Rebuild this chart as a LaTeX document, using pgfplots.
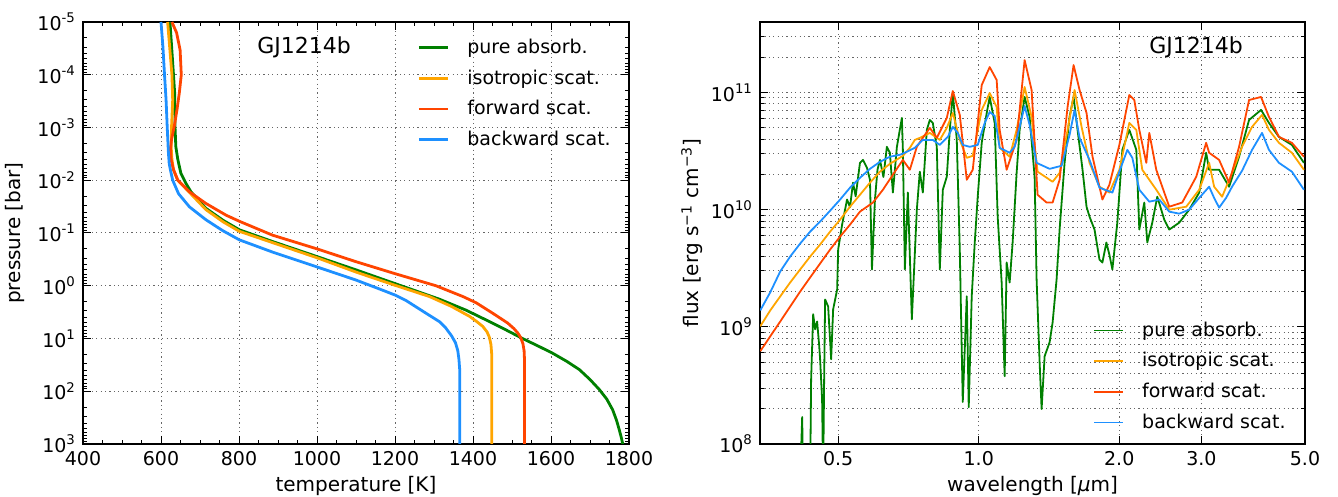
\documentclass[border=0pt]{standalone}
\usepackage{fontspec}
\setmainfont{DejaVu Sans}
\usepackage{pgfplots}
\pgfplotsset{compat=1.18}
\definecolor{cgreen}{RGB}{0,128,0}
\definecolor{corange}{RGB}{255,165,0}
\definecolor{cred}{RGB}{255,69,0}
\definecolor{cblue}{RGB}{30,144,255}
\pgfplotsset{
  myaxis/.style={
    scale only axis,
    height=211pt,
    anchor=south west,
    tick label style={font=\fontsize{9.5}{11}\selectfont},
    label style={font=\fontsize{10}{12}\selectfont},
    /pgf/number format/assume math mode=true,
    /pgf/number format/1000 sep={},
    major tick length=4pt, minor tick length=2pt,
    every tick/.style={black, line width=0.5pt},
    grid style={black!60, dash pattern=on 0.6pt off 1.6pt, line width=0.5pt},
    axis line style={line width=0.6pt},
    legend style={draw=none, fill=none, font=\fontsize{9.5}{11}\selectfont, row sep=2.6pt, inner sep=0pt,
      /tikz/every odd column/.append style={column sep=7pt}},
    legend cell align=left,
    legend image code/.code={\draw[##1] (0pt,0pt) -- (14.5pt,0pt);},
    xlabel style={at={(axis description cs:0.5,-0.1)}, anchor=center},
    ylabel style={at={(axis description cs:-0.1245,0.5)}, anchor=center},
  }
}
\begin{document}
\begin{tikzpicture}
\useasboundingbox (0,0) rectangle (669pt,248.5pt);
% ---------------- left panel ----------------
\begin{axis}[myaxis, at={(41.5pt,26.5pt)}, width=273pt,
  xmin=400, xmax=1800, xtick={400,600,...,1800}, minor x tick num=3,
  ymode=log, y dir=reverse, ymin=1e-5, ymax=1e3,
  ytick={1e-5,1e-4,1e-3,1e-2,1e-1,1e0,1e1,1e2,1e3},
  yticklabels={10\textsuperscript{-5},10\textsuperscript{-4},10\textsuperscript{-3},10\textsuperscript{-2},10\textsuperscript{-1},10\textsuperscript{0},10\textsuperscript{1},10\textsuperscript{2},10\textsuperscript{3}},
  minor ytick={2e-5,3e-5,4e-5,5e-5,6e-5,7e-5,8e-5,9e-5,2e-4,3e-4,4e-4,5e-4,6e-4,7e-4,8e-4,9e-4,2e-3,3e-3,4e-3,5e-3,6e-3,7e-3,8e-3,9e-3,2e-2,3e-2,4e-2,5e-2,6e-2,7e-2,8e-2,9e-2,0.2,0.3,0.4,0.5,0.6,0.7,0.8,0.9,2,3,4,5,6,7,8,9,20,30,40,50,60,70,80,90,200,300,400,500,600,700,800,900},
  xmajorgrids, ymajorgrids,
  xlabel={temperature [K]}, ylabel={pressure [bar]},
  legend style={at={(0.612,0.830)}, anchor=west},
  every axis plot/.append style={line width=1.4pt, line join=round},
]
\addplot[cgreen] table {
623 1e-5
632 1e-4
635 2.2e-4
636 1e-3
638 2.3e-3
643 4e-3
651 7.4e-3
664 1.15e-2
677 1.66e-2
715 3.4e-2
760 5.8e-2
801 8.7e-2
886 0.145
1000 0.28
1100 0.5
1200 0.91
1314 1.8
1382 2.9
1450 5.1
1485 6.9
1527 10
1568 14
1604 19
1640 27
1673 39
1700 60
1724 93
1743 141
1758 224
1768 355
1775 537
1780 741
1784 1000
};
\addlegendentry{pure absorb.}
\addplot[corange] table {
617 1e-5
628 1e-4
630 3e-4
627 1e-3
626 2.3e-3
628 4e-3
632 6.3e-3
643 1e-2
673 1.7e-2
715 3.6e-2
760 6.2e-2
801 9.3e-2
1000 0.295
1100 0.55
1200 0.98
1288 1.6
1344 2.45
1391 3.8
1410 4.8
1425 5.9
1436 7.5
1442 9.5
1446 13
1448 20
1448 40
1448 1000
};
\addlegendentry{isotropic scat.}
\addplot[cred] table {
628 1e-5
640 1.6e-5
649 3.4e-5
652 1e-4
647 2.2e-4
641 4.6e-4
634 9.5e-4
627 1.7e-3
624 2.6e-3
626 4.1e-3
632 6.3e-3
643 1e-2
673 1.66e-2
715 2.75e-2
767 4.6e-2
801 6e-2
886 0.11
1000 0.2
1100 0.35
1200 0.59
1305 1.0
1374 1.6
1408 2.1
1450 3.3
1489 5.1
1505 6.5
1515 7.9
1522 9.5
1528 12.5
1531 17
1532 25
1532 1000
};
\addlegendentry{forward scat.}
\addplot[cblue] table {
600 1e-5
605 3e-5
609 1e-4
613 3e-4
616 1e-3
619 3e-3
621 4.8e-3
624 6.3e-3
630 1e-2
645 1.8e-2
673 3.2e-2
715 5.6e-2
758 0.09
801 0.135
886 0.23
1000 0.44
1100 0.78
1160 1.15
1200 1.5
1228 1.9
1279 3.3
1314 4.8
1330 6.3
1345 8.9
1355 12
1361 17
1364 25
1366 40
1366 1000
};
\addlegendentry{backward scat.}
\node[font=\fontsize{11}{13}\selectfont] at (axis description cs:0.405,0.941) {GJ1214b};
\end{axis}
% ---------------- right panel ----------------
\begin{axis}[myaxis, at={(380pt,26.5pt)}, width=272.5pt,
  xmode=log, xmin=0.34, xmax=5, xtick={0.5,1,2,3,5}, xticklabels={0.5,1.0,2.0,3.0,5.0}, minor xtick={},
  ymode=log, ymin=1e8, ymax=4e11,
  ytick={1e8,1e9,1e10,1e11},
  yticklabels={10\textsuperscript{8},10\textsuperscript{9},10\textsuperscript{10},10\textsuperscript{11}},
  minor ytick={2e8,3e8,4e8,5e8,6e8,7e8,8e8,9e8,2e9,3e9,4e9,5e9,6e9,7e9,8e9,9e9,2e10,3e10,4e10,5e10,6e10,7e10,8e10,9e10,2e11,3e11},
  xmajorgrids, ymajorgrids, yminorgrids,
  xlabel={wavelength [\textit{μ}m]}, ylabel={flux [erg s\textsuperscript{−1} cm\textsuperscript{−3}]},
  legend style={at={(0.611,0.160)}, anchor=west},
  every axis plot/.append style={line width=0.9pt, line join=round},
]
\addplot[cgreen] table {
0.4145 5e7
0.4186 1.70e8
0.4206 5e7
0.4354 5e7
0.4375 3.57e8
0.4419 1.28e9
0.4462 9.52e8
0.4506 1.11e9
0.4550 7.10e8
0.4573 5.29e8
0.4618 2.42e8
0.4642 5e7
0.4665 3.57e8
0.4688 1.71e9
0.4758 1.49e9
0.4829 5.29e8
0.4877 1.41e9
0.4974 2.08e9
0.4999 4.57e9
0.5097 7.45e9
0.5223 1.22e10
0.5300 1.05e10
0.5379 1.70e10
0.5450 1.30e10
0.5567 2.51e10
0.5650 2.66e10
0.5762 2.28e10
0.5848 1.80e10
0.5906 3.09e9
0.5994 1.22e10
0.6070 2.20e10
0.6144 2.66e10
0.6250 1.90e10
0.6357 3.44e10
0.6452 3.06e10
0.6548 1.40e10
0.6679 3.44e10
0.6845 6.07e10
0.6879 3.24e10
0.6947 3.09e9
0.7050 1.40e10
0.7190 1.16e9
0.7370 1.00e10
0.7479 2.11e10
0.7591 1.40e10
0.7743 4.80e10
0.7857 5.83e10
0.7974 5.50e10
0.8132 3.44e10
0.8253 3.09e9
0.8377 1.48e10
0.8543 1.91e10
0.8671 4.80e10
0.8800 9.90e10
0.8974 3.94e10
0.9108 4.57e9
0.9243 2.28e8
0.9427 1.82e9
0.9519 2.06e8
0.9661 1.82e9
0.9806 5.24e9
0.9951 1.29e10
1.0149 3.72e10
1.0402 6.69e10
1.0556 9.16e10
1.0819 5.50e10
1.0980 8.72e9
1.1198 2.39e9
1.1365 3.79e8
1.1477 3.54e9
1.1648 2.39e9
1.1821 5.24e9
1.2056 2.06e10
1.2236 4.80e10
1.2541 9.16e10
1.2853 6.19e10
1.3174 1.91e10
1.3304 2.54e9
1.3503 4.99e8
1.3637 1.99e8
1.3841 5.61e8
1.4186 7.38e8
1.4398 1.09e9
1.4684 2.54e9
1.4903 6.76e9
1.5274 2.51e10
1.5653 6.19e10
1.5966 9.16e10
1.6284 4.80e10
1.6687 2.19e10
1.7020 1.06e10
1.7274 8.72e9
1.7705 6.76e9
1.8144 3.75e9
1.8408 3.54e9
1.8772 5.24e9
1.9051 4.14e9
1.9334 3.09e9
1.9815 7.75e9
2.0309 3.24e10
2.1018 4.80e10
2.1757 3.24e10
2.2080 6.76e9
2.2630 1.15e10
2.2967 5.24e9
2.3540 7.75e9
2.4127 1.29e10
2.4973 8.22e9
2.5595 6.76e9
2.6887 7.75e9
2.8245 1.00e10
2.9674 1.40e10
3.0704 3.06e10
3.1162 2.19e10
3.2734 2.19e10
3.4385 1.57e10
3.6122 2.83e10
3.7947 5.83e10
4.0254 7.10e10
4.1856 5.50e10
4.3966 4.18e10
4.6866 3.57e10
4.9737 2.51e10
};
\addlegendentry{pure absorb.}
\addplot[corange] table {
0.3404 1.01e9
0.3576 1.38e9
0.3757 1.82e9
0.3946 2.39e9
0.4145 3.09e9
0.4354 3.98e9
0.4573 5.04e9
0.4805 6.50e9
0.5047 8.22e9
0.5300 1.06e10
0.5567 1.34e10
0.5848 1.70e10
0.6144 2.11e10
0.6452 2.46e10
0.6879 2.88e10
0.7120 3.37e10
0.7297 3.94e10
0.7479 4.10e10
0.7857 4.52e10
0.8253 3.94e10
0.8543 4.99e10
0.8800 6.69e10
0.9108 3.94e10
0.9427 2.77e10
0.9710 2.88e10
1.0149 7.10e10
1.0556 9.90e10
1.0926 7.53e10
1.1088 3.37e10
1.1648 2.83e10
1.2056 4.80e10
1.2541 1.114e11
1.2980 6.19e10
1.3370 2.11e10
1.4398 1.73e10
1.4903 2.06e10
1.5502 4.80e10
1.6045 1.050e11
1.6609 5.09e10
1.7274 2.51e10
1.8144 1.57e10
1.9051 1.40e10
2.0012 2.19e10
2.1018 5.50e10
2.1757 4.80e10
2.2408 2.19e10
2.4008 1.48e10
2.5595 1.00e10
2.7831 1.06e10
2.9674 1.48e10
3.1162 2.51e10
3.1938 1.57e10
3.3219 1.29e10
3.4896 2.06e10
3.6659 3.44e10
3.8511 5.09e10
4.0452 6.44e10
4.1856 4.80e10
4.3966 3.72e10
4.6866 3.06e10
4.9737 2.19e10
};
\addlegendentry{isotropic scat.}
\addplot[cred] table {
0.3404 6.19e8
0.3576 8.30e8
0.3757 1.11e9
0.3946 1.49e9
0.4145 2.00e9
0.4354 2.64e9
0.4573 3.47e9
0.4805 4.57e9
0.5047 5.89e9
0.5300 7.45e9
0.5567 9.62e9
0.5935 1.15e10
0.6235 1.48e10
0.6548 1.99e10
0.6879 2.66e10
0.7120 2.19e10
0.7370 3.44e10
0.7591 4.10e10
0.7857 4.99e10
0.8132 4.10e10
0.8543 6.07e10
0.8800 1.030e11
0.9108 6.44e10
0.9427 1.80e10
0.9710 2.19e10
1.0149 1.158e11
1.0556 1.648e11
1.0926 1.278e11
1.1088 4.80e10
1.1477 2.19e10
1.2056 3.94e10
1.2541 1.891e11
1.2980 1.050e11
1.3370 1.34e10
1.3978 1.15e10
1.4398 1.15e10
1.4903 1.80e10
1.5502 7.53e10
1.5966 1.714e11
1.6446 1.050e11
1.7020 6.69e10
1.7531 2.83e10
1.8408 1.22e10
1.9051 1.63e10
2.0012 3.57e10
2.1018 9.52e10
2.1544 8.63e10
2.2080 4.80e10
2.2856 2.51e10
2.3195 4.52e10
2.4008 2.19e10
2.5595 1.06e10
2.7287 1.15e10
2.9241 1.91e10
3.0704 3.72e10
3.1162 3.06e10
3.2734 2.66e10
3.4385 1.70e10
3.6122 3.44e10
3.7947 8.63e10
4.0254 9.16e10
4.1856 6.19e10
4.3966 4.18e10
4.6866 3.72e10
4.9737 2.83e10
};
\addlegendentry{forward scat.}
\addplot[cblue] table {
0.3404 1.38e9
0.3576 1.97e9
0.3757 2.97e9
0.3946 3.98e9
0.4145 5.14e9
0.4354 6.50e9
0.4573 7.91e9
0.4805 9.81e9
0.5047 1.22e10
0.5300 1.54e10
0.5567 1.87e10
0.5848 2.23e10
0.6144 2.56e10
0.6452 2.83e10
0.6778 2.94e10
0.7016 3.12e10
0.7297 3.37e10
0.7591 3.94e10
0.7974 3.94e10
0.8253 3.57e10
0.8586 4.18e10
0.8800 5.09e10
0.9018 4.52e10
0.9243 3.57e10
0.9567 3.44e10
0.9951 3.57e10
1.0300 5.50e10
1.0556 6.82e10
1.0819 6.31e10
1.1088 3.37e10
1.1648 3.06e10
1.1938 3.44e10
1.2236 5.09e10
1.2541 7.67e10
1.2853 5.29e10
1.3304 2.51e10
1.4186 2.23e10
1.5050 2.37e10
1.5653 4.35e10
1.6045 7.10e10
1.6446 4.10e10
1.7274 2.66e10
1.8144 1.54e10
1.9334 1.40e10
2.0012 2.11e10
2.0815 3.24e10
2.1334 2.77e10
2.2080 1.48e10
2.3195 1.17e10
2.4366 1.22e10
2.5595 9.62e9
2.6887 9.25e9
2.8245 1.00e10
2.9674 1.26e10
3.1162 1.57e10
3.1938 1.26e10
3.2734 1.04e10
3.3880 1.26e10
3.4896 1.57e10
3.6659 2.15e10
3.8511 3.24e10
4.0452 4.52e10
4.1856 3.24e10
4.3966 2.51e10
4.6866 2.11e10
4.9737 1.48e10
};
\addlegendentry{backward scat.}
\node[font=\fontsize{11}{13}\selectfont] at (axis description cs:0.8,0.941) {GJ1214b};
\end{axis}
\end{tikzpicture}
\end{document}
